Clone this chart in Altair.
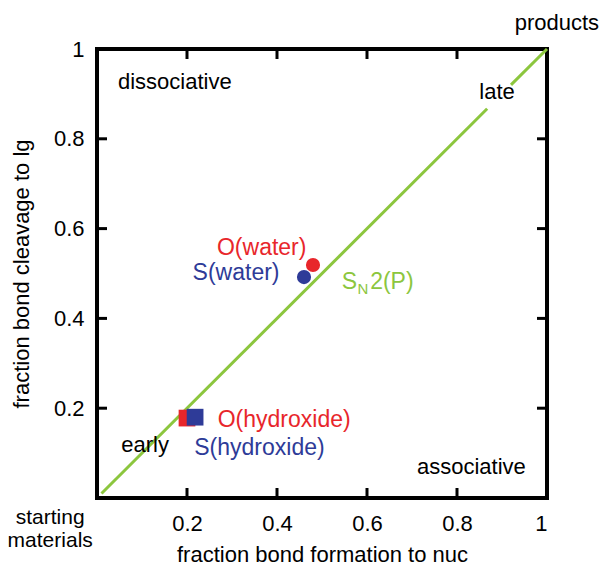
import altair as alt
import pandas as pd

FONT = "Liberation Sans"
RED = "#e8262b"
BLUE = "#2e3b98"
GREEN = "#8cc63e"

# ---- data ----
tick_values = [0.2, 0.4, 0.6, 0.8, 1.0]
inner_ticks = [0.2, 0.4, 0.6, 0.8]

# SN2(P) diagonal (broken where the "late" label sits)
line_x = [0.01, 0.867, 0.92, 1.0]
line_y = [0.01, 0.867, 0.92, 1.0]
line_seg = [0, 0, 1, 1]

# measured points (drawing order)
pt_name = ["S(water)", "O(water)", "O(hydroxide)", "S(hydroxide)"]
pt_atom = ["S", "O", "O", "S"]
pt_nuc = ["water", "water", "hydroxide", "hydroxide"]
pt_x = [0.46, 0.48, 0.20, 0.218]
pt_y = [0.492, 0.519, 0.178, 0.180]

# coloured point labels
lab_text = ["O(water)", "S(water)", "O(hydroxide)", "S(hydroxide)"]
lab_atom = ["O", "S", "O", "S"]
lab_x = [0.366, 0.309, 0.416, 0.361]
lab_y = [0.557, 0.501, 0.174, 0.111]

# region labels
reg_text = ["dissociative", "late", "early", "associative", "products"]
reg_x = [0.173, 0.889, 0.107, 0.832, 1.022]
reg_y = [0.927, 0.904, 0.118, 0.069, 1.058]

# "starting materials" (two lines, below/left of origin)
sm_text = ["starting", "materials"]
sm_x = [-0.104, -0.104]
sm_y = [-0.045, -0.096]

# SN2(P) label pieces
sn_text = ["S", "2(P)"]
sn_x = [0.544, 0.607]
sn_y = [0.481, 0.481]
sub_text = ["N"]
sub_x = [0.579]
sub_y = [0.466]

# ---- frames ----
line_df = pd.DataFrame({"x": line_x, "y": line_y, "seg": line_seg})
pt_df = pd.DataFrame({"name": pt_name, "atom": pt_atom, "nuc": pt_nuc, "x": pt_x, "y": pt_y})
lab_df = pd.DataFrame({"text": lab_text, "atom": lab_atom, "x": lab_x, "y": lab_y})
reg_df = pd.DataFrame({"text": reg_text, "x": reg_x, "y": reg_y})
sm_df = pd.DataFrame({"text": sm_text, "x": sm_x, "y": sm_y})
sn_df = pd.DataFrame({"text": sn_text, "x": sn_x, "y": sn_y})
sub_df = pd.DataFrame({"text": sub_text, "x": sub_x, "y": sub_y})
tx_df = pd.DataFrame({"x": inner_ticks})
ty_df = pd.DataFrame({"y": inner_ticks})

W, H = 450, 449

xscale = alt.Scale(domain=[0, 1], nice=False, zero=False)
yscale = alt.Scale(domain=[0, 1], nice=False, zero=False)

xaxis = alt.Axis(
    values=tick_values, format=".1~f", grid=False, domain=False, ticks=False,
    tickSize=0, labelFontSize=22, labelFont=FONT, labelColor="black",
    labelPadding=15, title="fraction bond formation to nuc", titleFont=FONT,
    titleFontSize=22, titleFontWeight="normal", titleColor="black",
    titleBaseline="alphabetic", titleY=63, titleX=W / 2,
)
yaxis = alt.Axis(
    values=tick_values, format=".1~f", grid=False, domain=False, ticks=False,
    tickSize=0, labelFontSize=22, labelFont=FONT, labelColor="black",
    labelPadding=13, title="fraction bond cleavage to lg", titleFont=FONT,
    titleFontSize=22, titleFontWeight="normal", titleColor="black",
    titleBaseline="alphabetic", titleX=-69, titleY=H / 2, titleAngle=-90,
)


def X(f="x"):
    return alt.X(f"{f}:Q", scale=xscale, axis=xaxis)


def Y(f="y"):
    return alt.Y(f"{f}:Q", scale=yscale, axis=yaxis)


color_scale = alt.Scale(domain=["O", "S"], range=[RED, BLUE])

line = alt.Chart(line_df).mark_line(color=GREEN, strokeWidth=3).encode(
    x=X(), y=Y(), detail="seg:N"
)

tick_len = 10
bottom_ticks = alt.Chart(tx_df).mark_rule(color="black", strokeWidth=3).encode(
    x=X(), y=alt.value(H), y2=alt.value(H - tick_len)
)
top_ticks = alt.Chart(tx_df).mark_rule(color="black", strokeWidth=3).encode(
    x=X(), y=alt.value(0), y2=alt.value(tick_len)
)
left_ticks = alt.Chart(ty_df).mark_rule(color="black", strokeWidth=3).encode(
    y=Y(), x=alt.value(0), x2=alt.value(tick_len)
)
right_ticks = alt.Chart(ty_df).mark_rule(color="black", strokeWidth=3).encode(
    y=Y(), x=alt.value(W), x2=alt.value(W - tick_len)
)

points = alt.Chart(pt_df).mark_point(filled=True, opacity=1, strokeWidth=0).encode(
    x=X(), y=Y(),
    color=alt.Color("atom:N", scale=color_scale, legend=None),
    shape=alt.Shape("nuc:N", scale=alt.Scale(domain=["water", "hydroxide"], range=["circle", "square"]), legend=None),
    size=alt.Size("nuc:N", scale=alt.Scale(domain=["water", "hydroxide"], range=[200, 280]), legend=None),
    order=alt.Order("idx:Q"),
).transform_window(idx="row_number()")

labels = alt.Chart(lab_df).mark_text(font=FONT, fontSize=23, baseline="middle", align="center").encode(
    x=X(), y=Y(), text="text:N",
    color=alt.Color("atom:N", scale=color_scale, legend=None),
)

regions = alt.Chart(reg_df).mark_text(font=FONT, fontSize=22, baseline="middle", align="center", color="black").encode(
    x=X(), y=Y(), text="text:N"
)

sm = alt.Chart(sm_df).mark_text(font=FONT, fontSize=21, baseline="middle", align="center", color="black").encode(
    x=X(), y=Y(), text="text:N"
)

sn = alt.Chart(sn_df).mark_text(font=FONT, fontSize=23, baseline="middle", align="left", color=GREEN).encode(
    x=X(), y=Y(), text="text:N"
)
sub = alt.Chart(sub_df).mark_text(font=FONT, fontSize=15, baseline="middle", align="left", color=GREEN).encode(
    x=X(), y=Y(), text="text:N"
)

chart = alt.layer(
    line, bottom_ticks, top_ticks, left_ticks, right_ticks, points, labels, regions, sm, sn, sub
).properties(
    width=W, height=H,
    autosize=alt.AutoSizeParams(type="none"),
    padding={"left": 89, "top": 41, "right": 54, "bottom": 68},
    background="white",
).configure_view(stroke="black", strokeWidth=4)

chart.save("out.html", embed_options={"renderer": "svg", "actions": False})
